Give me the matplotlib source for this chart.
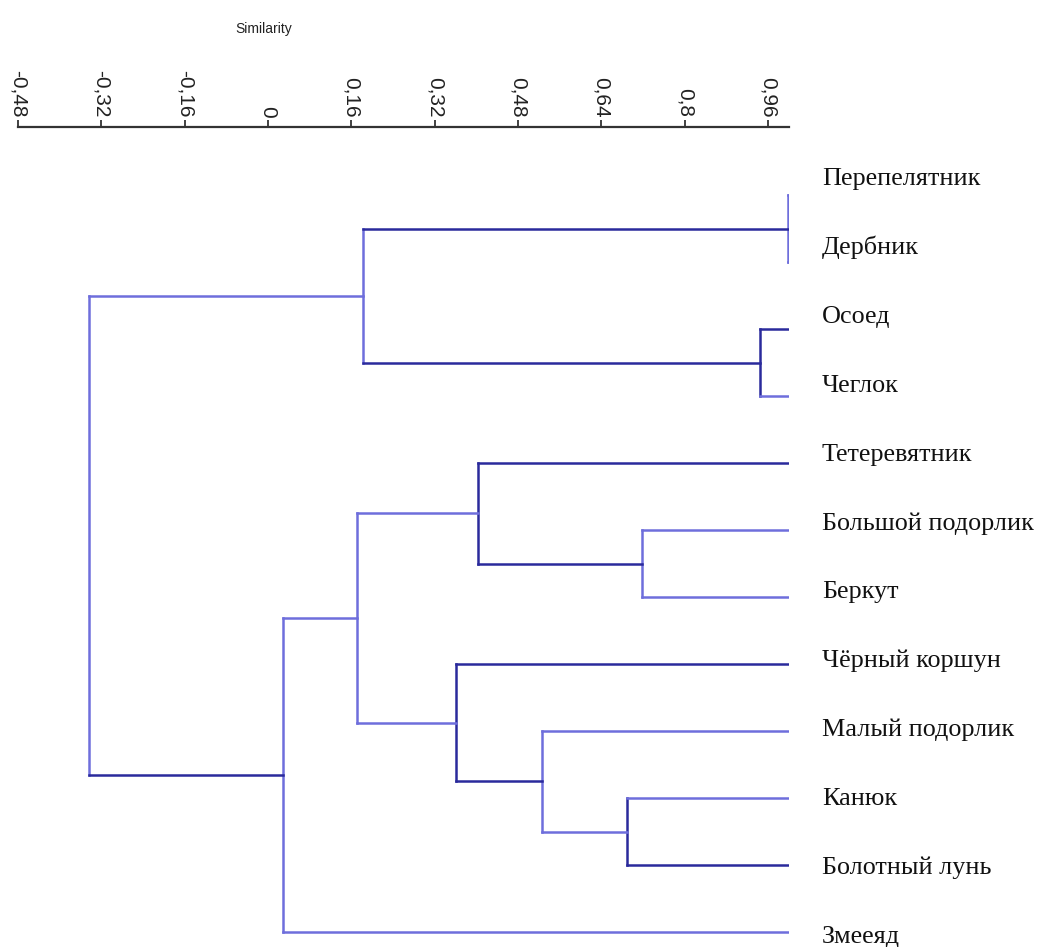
import matplotlib
matplotlib.use("Agg")
import matplotlib.pyplot as plt

# ---- data ----
leaves = ["Перепелятник", "Дербник", "Осоед", "Чеглок", "Тетеревятник",
          "Большой подорлик", "Беркут", "Чёрный коршун", "Малый подорлик",
          "Канюк", "Болотный лунь", "Змееяд"]
leaf_similarity = 1.0
# merges: (left id, right id, similarity); leaves are 0..11, merges 12..
merge_left = [0, 2, 12, 5, 4, 9, 8, 7, 16, 20, 14]
merge_right = [1, 3, 13, 6, 15, 10, 17, 18, 19, 11, 21]
merge_sim = [0.998, 0.945, 0.182, 0.717, 0.403, 0.689, 0.526, 0.361, 0.171, 0.028, -0.344]
tick_values = [-0.48, -0.32, -0.16, 0, 0.16, 0.32, 0.48, 0.64, 0.8, 0.96]
tick_labels = ["-0,48", "-0,32", "-0,16", "0", "0,16", "0,32", "0,48", "0,64", "0,8", "0,96"]

# ---- styles ----
DARK = "#2a2a9c"
LIGHT = "#6e6edc"
# (vertical, left horizontal, right horizontal) colours per merge
seg_colors = [
    (LIGHT, LIGHT, LIGHT),
    (DARK, DARK, LIGHT),
    (LIGHT, DARK, DARK),
    (LIGHT, LIGHT, LIGHT),
    (DARK, DARK, DARK),
    (DARK, LIGHT, DARK),
    (LIGHT, LIGHT, LIGHT),
    (DARK, DARK, DARK),
    (LIGHT, LIGHT, LIGHT),
    (LIGHT, LIGHT, LIGHT),
    (LIGHT, LIGHT, DARK),
]

W, H = 1041, 947
fig = plt.figure(figsize=(W / 100, H / 100), dpi=100)
ax = fig.add_axes([18 / W, 1 - 940 / H, 771 / W, 813 / H])

n = len(leaves)
xpos = {i: leaf_similarity for i in range(n)}
ypos = {i: float(i) for i in range(n)}
lw = 1.8
for k, (a, b, s) in enumerate(zip(merge_left, merge_right, merge_sim)):
    node = n + k
    xpos[node] = s
    ypos[node] = (ypos[a] + ypos[b]) / 2
    cv, ca, cb = seg_colors[k]
    ax.plot([s, s], [ypos[a], ypos[b]], color=cv, lw=lw, solid_capstyle="projecting")
    ax.plot([s, xpos[a]], [ypos[a], ypos[a]], color=ca, lw=lw, solid_capstyle="projecting")
    ax.plot([s, xpos[b]], [ypos[b], ypos[b]], color=cb, lw=lw, solid_capstyle="projecting")

ax.set_xlim(-0.48, 1.0)
ax.set_ylim((940 - 195) / 67.0, (127 - 195) / 67.0)

for sp in ["left", "right", "bottom"]:
    ax.spines[sp].set_visible(False)
ax.spines["top"].set_color("#333333")
ax.spines["top"].set_linewidth(1.6)
ax.xaxis.set_ticks_position("top")
ax.set_xticks(tick_values)
ax.set_xticklabels(tick_labels, rotation=270, fontsize=15,
                   family=["Liberation Sans", "DejaVu Sans"], color="#222222")
ax.tick_params(axis="x", direction="out", length=5, width=1.3, colors="#333333", pad=2)
ax.tick_params(axis="x", labelcolor="#222222")
ax.set_yticks([])

fig.text(264 / W, 1 - 33 / H, "Similarity", ha="center", va="baseline", fontsize=10,
         family=["Liberation Sans", "DejaVu Sans"], color="#222222")

# leaf labels on their own evenly spaced positions
lax = fig.add_axes([822 / W, 1 - 940 / H, (W - 822) / W, 813 / H])
lax.set_axis_off()
lax.set_xlim(0, 1)
step = 68.9
lax.set_ylim((940 - 185) / step, (127 - 185) / step)
for i, name in enumerate(leaves):
    lax.text(0, i, name, ha="left", va="baseline", fontsize=18.8,
             family=["Liberation Serif", "DejaVu Serif"], color="#111111")

fig.savefig("out.png", dpi=100)
